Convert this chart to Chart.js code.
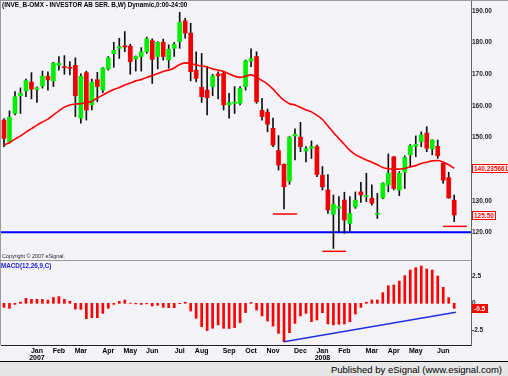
<!DOCTYPE html>
<html lang="en">
<head>
<meta charset="UTF-8">
<title>INVE_B-OMX weekly</title>
<script src="https://cdn.jsdelivr.net/npm/chart.js@4.4.1/dist/chart.umd.min.js"></script>
<style>
  body { margin: 0; background: #fff; }
  #wrap { position: relative; width: 508px; height: 376px; background: #f4f3f8; overflow: hidden;
          font-family: "Liberation Sans", Arial, sans-serif; }
  #priceBox { position: absolute; left: 0; top: 0; }
  #macdBox { position: absolute; left: 0; top: 261px; }
  .txt { position: absolute; white-space: nowrap; line-height: 1; }
  #title { left: 2px; top: 2px; font-size: 6.4px; font-weight: bold; color: #000; }
  #copy { left: 2px; top: 254px; font-size: 5.4px; color: #222; }
  #macdName { left: 1px; top: 263px; font-size: 6.3px; font-weight: bold; color: #2020e0; }
  #topLine { position: absolute; left: 0; top: 0; width: 508px; height: 1px; background: #9a9a9a; }
  #leftLine { position: absolute; left: 0; top: 0; width: 1px; height: 345px; background: #9a9a9a; }
  #sepLine { position: absolute; left: 0; top: 260px; width: 471px; height: 1px; background: #9a9a9a; }
  #footer { position: absolute; left: 0; top: 361px; width: 508px; height: 15px; background: #e6e6e6;
            border-top: 1px solid #000; }
  #footer span { position: absolute; right: 6px; top: 2px; font-size: 9.5px; color: #000; }
</style>
</head>
<body>
<div id="wrap">
  <div id="priceBox"><canvas id="priceChart" width="508" height="261"></canvas></div>
  <div id="macdBox"><canvas id="macdChart" width="508" height="101"></canvas></div>
  <div id="topLine"></div>
  <div id="leftLine"></div>
  <div id="sepLine"></div>
  <div class="txt" id="title">(INVE_B-OMX - INVESTOR AB SER. B,W) Dynamic,0:00-24:00</div>
  <div class="txt" id="copy">Copyright © 2007 eSignal.</div>
  <div class="txt" id="macdName">MACD(12,26,9,C)</div>
  <div id="footer"><span>Published by eSignal (www.esignal.com)</span></div>
</div>
<script>
// weekly candles, Nov 2006 - Jun 2008
const opens  = [155.5,148.7,157.6,163.2,164.7,167.5,165.2,166.3,169.4,167.9,172.9,172.4,172.1,172.8,156.1,170.5,160.3,168.3,165.0,171.7,
                176.5,178.2,179.0,178.9,174.8,175.6,177.1,180.6,175.6,180.1,174.5,178.2,180.3,186.9,183.0,171.3,165.9,165.0,166.1,170.1,
                170.3,160.3,160.8,160.8,166.1,174.2,175.6,158.6,158.0,152.9,145.9,141.5,136.2,150.5,150.1,145.7,146.6,147.1,138.1,133.4,
                125.7,127.6,130.2,122.8,128.1,132.8,131.3,130.8,125.7,130.9,135.0,143.9,133.4,139.0,144.5,147.2,148.7,151.4,146.4,147.2,
                141.8,137.3,130.2];
const highs  = [156.0,158.4,164.5,165.7,168.5,170.5,166.0,171.0,170.8,173.8,175.6,175.9,174.0,175.2,170.1,171.0,168.5,170.6,172.1,175.6,
                180.1,181.4,183.5,179.5,175.8,178.4,181.7,181.2,180.3,181.1,179.3,180.1,189.6,187.7,186.1,177.1,176.6,172.4,170.0,170.8,
                170.8,164.0,166.1,166.1,174.5,178.0,177.1,162.4,159.0,156.1,150.6,141.7,150.3,152.7,154.8,147.1,148.9,147.6,140.8,138.3,
                131.8,131.3,132.7,131.3,132.8,135.8,138.7,135.0,132.3,135.7,144.8,144.0,139.2,144.2,147.8,150.5,151.8,153.4,149.3,149.2,
                142.3,139.0,131.8];
const lows   = [147.1,148.2,157.1,157.6,162.9,162.2,161.1,165.6,165.0,166.1,171.3,170.0,169.8,156.6,154.5,155.5,158.7,161.3,164.2,171.3,
                172.2,175.0,177.1,170.0,171.0,171.0,176.6,167.1,171.7,174.5,171.9,175.6,178.2,181.4,167.9,167.6,161.1,157.1,163.2,162.2,
                158.7,156.1,157.6,160.3,165.0,172.4,160.8,155.5,151.8,147.1,139.7,127.4,135.2,142.9,145.5,142.3,143.4,137.6,133.4,126.0,
                114.9,120.2,119.7,120.4,127.6,129.5,129.7,128.6,124.4,130.6,132.8,133.4,131.6,133.9,140.8,143.9,147.1,145.5,144.5,143.4,
                135.5,130.8,123.4];
const closes = [149.7,156.4,162.9,164.0,168.0,165.3,165.7,169.4,168.2,173.5,173.5,172.1,171.9,163.2,169.4,158.7,167.5,166.1,171.9,175.2,
                177.6,178.7,178.6,174.0,175.6,177.1,181.2,174.7,180.1,175.6,177.9,179.5,186.4,183.0,170.8,168.7,162.9,162.6,169.5,169.5,
                160.3,161.0,161.2,165.6,174.2,175.0,161.3,156.6,154.2,147.6,141.3,134.4,150.1,151.0,147.1,146.4,147.1,138.3,134.4,127.1,
                128.9,128.1,123.9,126.0,130.2,131.8,131.6,129.2,126.0,135.5,138.7,133.9,138.7,143.7,147.4,147.8,150.8,146.6,149.2,144.2,
                136.5,130.9,125.5];
// red moving average
const maValues = [147.6,148.4,149.5,150.5,151.7,152.8,153.9,154.9,155.8,157.1,158.4,159.6,160.3,160.6,160.7,161.1,161.4,162.5,163.4,164.4,
                  165.2,165.8,166.6,167.2,167.9,168.3,169.0,169.6,170.2,170.9,171.3,172.0,173.1,173.6,173.4,172.9,172.6,172.3,171.7,171.3,
                  170.9,170.1,169.4,169.0,169.4,169.8,169.1,168.0,166.9,165.3,163.4,161.7,160.7,160.3,159.5,158.7,158.1,157.0,155.7,153.6,
                  151.6,149.7,147.8,145.9,144.6,143.7,142.9,142.2,141.4,140.5,140.1,140.0,140.0,140.2,140.7,141.1,141.8,142.2,142.6,142.7,
                  142.2,141.4,140.235661];
// MACD histogram
const macdValues = [-0.37,-0.46,-0.10,0.12,0.46,0.37,0.37,0.37,0.30,0.55,0.62,0.37,0.20,-0.53,-0.56,-1.42,-1.33,-1.33,-0.93,-0.46,
                    -0.10,0.18,0.30,0.02,-0.05,-0.10,-0.05,-0.25,-0.18,-0.37,-0.40,-0.40,-0.03,0.10,-0.71,-1.39,-2.16,-2.53,-2.31,-2.00,
                    -2.31,-2.33,-2.25,-1.80,-0.85,0.08,-0.62,-1.17,-1.64,-2.10,-2.78,-3.55,-2.72,-1.85,-1.17,-0.93,-1.70,-1.54,-0.87,-1.91,
                    -2.00,-1.94,-1.91,-1.70,-0.99,-0.37,0.10,0.31,0.31,0.99,1.63,1.70,2.06,2.56,3.08,3.30,3.45,3.18,3.08,2.53,
                    1.48,0.52,-0.46];

const monthIdx  = [6, 10, 14, 19, 23, 27, 32, 36, 41, 45, 49, 54, 58, 62, 67, 71, 75, 80];
const monthText = [['Jan', '2007'], 'Feb', 'Mar', 'Apr', 'May', 'Jun', 'Jul', 'Aug', 'Sep', 'Oct', 'Nov', 'Dec',
                   ['Jan', '2008'], 'Feb', 'Mar', 'Apr', 'May', 'Jun'];
const priceTicks = [120, 130, 140, 150, 160, 170, 180, 190];
const macdTicks  = [-2.5, 0, 2.5];

// drawn annotations
const supportLevel = 120;
const markLevels = [125.8, 114.0, 121.9];
const markFrom   = [49, 58, 80];
const markTo     = [53.4, 62.3, 84.3];
const trendX = [51, 82.3];
const trendY = [-3.55, -0.83];

const XMIN = -0.546, XMAX = 85.06;
const upColor = '#00ee00', downColor = '#f00000';
const idx = opens.map((_, i) => i);

Chart.defaults.font.family = '"Liberation Sans", Arial, sans-serif';
Chart.defaults.animation = false;

// boxes with the last values on the right axis
const lastValueBoxes = {
  id: 'lastValueBoxes',
  afterDraw(chart, args, opts) {
    const ctx = chart.ctx;
    const ys = chart.scales.y;
    opts.items.forEach(it => {
      const py = Math.round(ys.getPixelForValue(it.value));
      ctx.save();
      ctx.font = 'bold 6.5px "Liberation Sans"';
      const w = Math.ceil(ctx.measureText(it.text).width) + 4;
      const x0 = chart.chartArea.right + 1;
      ctx.fillStyle = it.bg;
      ctx.fillRect(x0, py - 4, w, 9);
      ctx.strokeStyle = '#ff0000';
      ctx.lineWidth = 1;
      ctx.strokeRect(x0 + 0.5, py - 3.5, w - 1, 8);
      ctx.fillStyle = it.fg;
      ctx.textBaseline = 'middle';
      ctx.fillText(it.text, x0 + 2, py + 1);
      ctx.restore();
    });
  }
};

// keep the plot area exactly where the axes put it
const fitRight = s => { s.width = 37; s.paddingTop = 0; s.paddingBottom = 0; };
const xAxisHidden = { type: 'linear', min: XMIN, max: XMAX, offset: false, display: false };

new Chart(document.getElementById('priceChart'), {
  type: 'bar',
  data: {
    datasets: [
      { type: 'line', data: idx.map(i => ({ x: i, y: maValues[i] })), borderColor: '#ff0000', borderWidth: 1.6,
        pointRadius: 0, cubicInterpolationMode: 'monotone', order: 0 },
      { data: idx.map(i => ({ x: i, y: [opens[i], closes[i]] })),
        backgroundColor: idx.map(i => closes[i] >= opens[i] ? upColor : downColor),
        barThickness: 4, minBarLength: 1, grouped: false, order: 1 },
      { data: idx.map(i => ({ x: i, y: [lows[i], highs[i]] })), backgroundColor: '#111',
        barThickness: 1, grouped: false, order: 2 },
      { type: 'line', data: [{ x: XMIN, y: supportLevel }, { x: XMAX, y: supportLevel }],
        borderColor: '#0000ff', borderWidth: 2, pointRadius: 0, order: 3 },
      ...markLevels.map((lv, k) => ({
        type: 'line', data: [{ x: markFrom[k], y: lv }, { x: markTo[k], y: lv }],
        borderColor: '#ff0000', borderWidth: 1.5, pointRadius: 0, order: 3
      }))
    ]
  },
  options: {
    responsive: false,
    layout: { padding: { left: 1, top: 1, right: 0, bottom: 1 } },
    plugins: {
      legend: { display: false }, tooltip: { enabled: false },
      lastValueBoxes: { items: [
        { value: maValues[maValues.length - 1], text: String(maValues[maValues.length - 1]), bg: '#ffffff', fg: '#ff0000' },
        { value: closes[closes.length - 1], text: closes[closes.length - 1].toFixed(2), bg: '#ffffff', fg: '#ff0000' }
      ] }
    },
    scales: {
      x: xAxisHidden,
      y: {
        position: 'right', min: 111.26, max: 193.16,
        afterFit: fitRight,
        afterBuildTicks: s => { s.ticks = priceTicks.map(v => ({ value: v })); },
        grid: { display: false, drawTicks: false },
        border: { display: true, color: '#666' },
        ticks: { padding: 1, color: '#222', font: { size: 6.5, weight: 'bold' }, callback: v => v.toFixed(2) }
      }
    }
  },
  plugins: [lastValueBoxes]
});

new Chart(document.getElementById('macdChart'), {
  type: 'bar',
  data: {
    datasets: [
      { data: idx.map(i => ({ x: i, y: macdValues[i] })), backgroundColor: '#ff0000',
        barThickness: 2, grouped: false, order: 1 },
      { type: 'line', data: trendX.map((x, k) => ({ x: x, y: trendY[k] })),
        borderColor: '#2030e0', borderWidth: 1.5, pointRadius: 0, order: 0 }
    ]
  },
  options: {
    responsive: false,
    layout: { padding: { left: 1, top: 0, right: 0, bottom: 0 } },
    plugins: {
      legend: { display: false }, tooltip: { enabled: false },
      lastValueBoxes: { items: [
        { value: macdValues[macdValues.length - 1], text: macdValues[macdValues.length - 1].toFixed(1), bg: '#ff0000', fg: '#ffffff' }
      ] }
    },
    scales: {
      x: {
        type: 'linear', min: XMIN, max: XMAX, offset: false, position: 'bottom',
        afterFit: s => { s.height = 17; s.paddingLeft = 0; s.paddingRight = 0; },
        afterBuildTicks: s => { s.ticks = monthIdx.map(v => ({ value: v })); },
        grid: { display: false, drawTicks: false },
        border: { display: true, color: '#222' },
        ticks: { autoSkip: false, maxRotation: 0, padding: 2, color: '#000',
                 font: { size: 7, weight: 'bold', lineHeight: 1.05 },
                 callback: (v, i) => monthText[i] }
      },
      y: {
        position: 'right', min: -3.86, max: 3.92,
        afterFit: fitRight,
        afterBuildTicks: s => { s.ticks = macdTicks.map(v => ({ value: v })); },
        grid: { display: false, drawTicks: false },
        border: { display: true, color: '#666' },
        ticks: { padding: 1, color: '#222', font: { size: 6.5, weight: 'bold' }, callback: v => String(v) }
      }
    }
  },
  plugins: [lastValueBoxes]
});
</script>
</body>
</html>
